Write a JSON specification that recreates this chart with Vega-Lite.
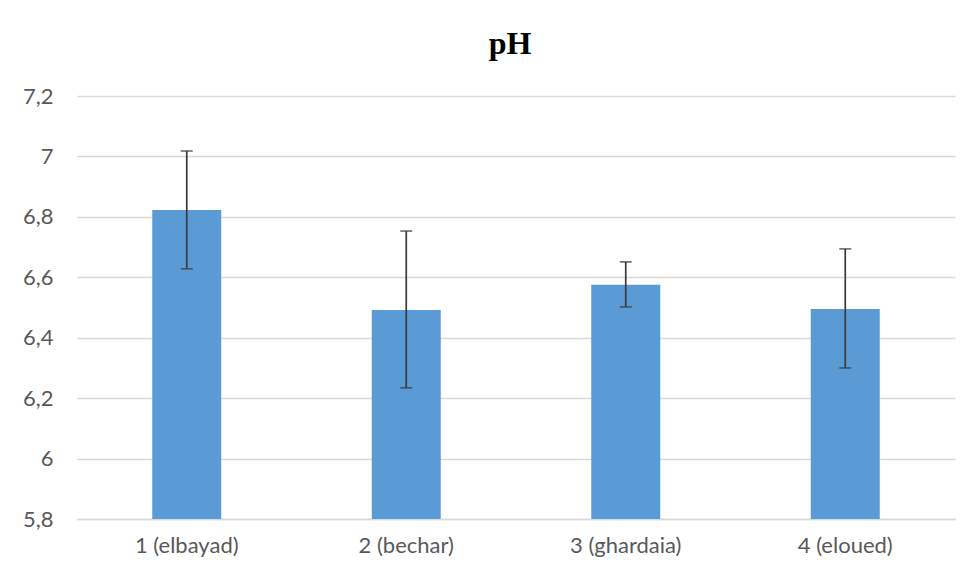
{
  "$schema": "https://vega.github.io/schema/vega-lite/v6.json",
  "width": 878,
  "height": 423,
  "autosize": {"type": "none"},
  "padding": {"left": 77, "top": 96, "right": 16, "bottom": 60},
  "background": "white",
  "title": {
    "text": "pH",
    "font": "Liberation Serif",
    "fontSize": 32,
    "fontWeight": "bold",
    "color": "#000000",
    "anchor": "middle",
    "offset": 24,
    "dx": -6
  },
  "data": {
    "values": [
      {"site": "1 (elbayad)", "ph": 6.823, "low": 6.628, "high": 7.018},
      {"site": "2 (bechar)", "ph": 6.492, "low": 6.234, "high": 6.753},
      {"site": "3 (ghardaia)", "ph": 6.575, "low": 6.502, "high": 6.651},
      {"site": "4 (eloued)", "ph": 6.495, "low": 6.300, "high": 6.694}
    ]
  },
  "config": {
    "view": {"stroke": null},
    "axis": {
      "labelFont": "Lato",
      "labelFontSize": 22,
      "labelColor": "#595959",
      "gridColor": "#D9D9D9",
      "gridWidth": 1.5,
      "domainColor": "#D9D9D9",
      "domainWidth": 1.5,
      "ticks": false,
      "title": null
    }
  },
  "encoding": {
    "x": {
      "field": "site",
      "type": "nominal",
      "sort": null,
      "scale": {"paddingInner": 0, "paddingOuter": 0},
      "axis": {"labelAngle": 0, "labelPadding": 16, "grid": false, "domain": true}
    }
  },
  "layer": [
    {
      "mark": {"type": "bar", "size": 69, "color": "#5B9BD5"},
      "encoding": {
        "y": {
          "field": "ph",
          "type": "quantitative",
          "scale": {"domain": [5.8, 7.2], "nice": false, "zero": false},
          "axis": {
            "values": [5.8, 6, 6.2, 6.4, 6.6, 6.8, 7, 7.2],
            "labelExpr": "replace(format(datum.value, '~g'), '.', ',')",
            "labelPadding": 24,
            "domain": false,
            "grid": true
          }
        },
        "y2": {"datum": 5.8}
      }
    },
    {
      "mark": {"type": "rule", "color": "#3A3A3A", "strokeWidth": 1.7},
      "encoding": {
        "y": {"field": "low", "type": "quantitative"},
        "y2": {"field": "high"}
      }
    },
    {
      "mark": {"type": "tick", "color": "#3A3A3A", "size": 12, "thickness": 1.7},
      "encoding": {"y": {"field": "low", "type": "quantitative"}}
    },
    {
      "mark": {"type": "tick", "color": "#3A3A3A", "size": 12, "thickness": 1.7},
      "encoding": {"y": {"field": "high", "type": "quantitative"}}
    }
  ]
}
